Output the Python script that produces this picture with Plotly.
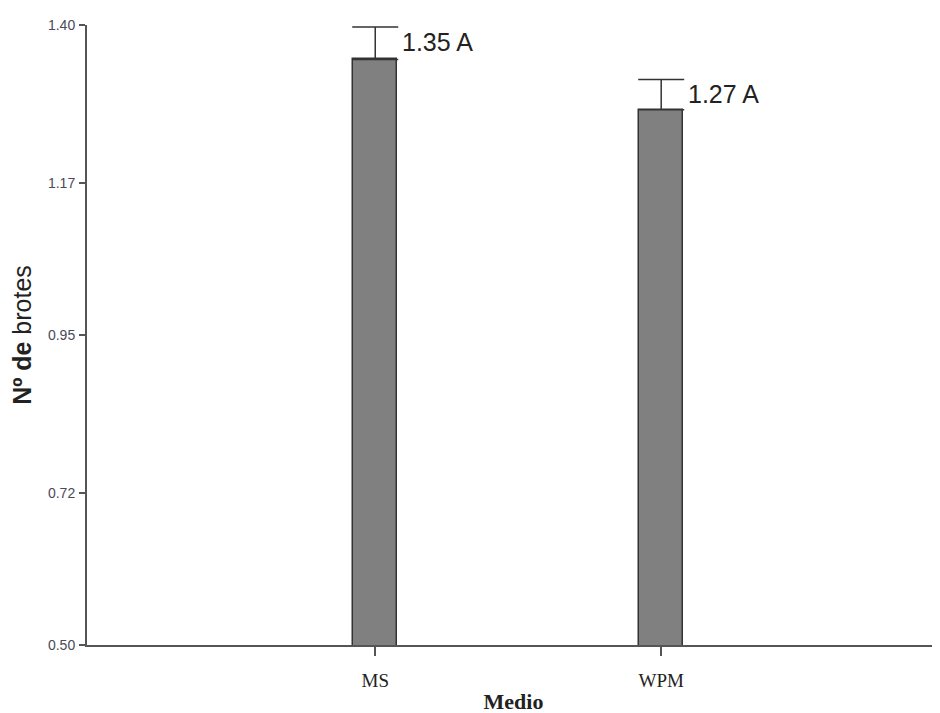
import plotly.graph_objects as go

categories = ["MS", "WPM"]
means = [1.35, 1.277]
errors = [0.047, 0.044]
labels = ["1.35 A", "1.27 A"]
y_ticks = [0.50, 0.72, 0.95, 1.17, 1.40]
y_ticktext = ["0.50", "0.72", "0.95", "1.17", "1.40"]

fig = go.Figure()
fig.add_trace(go.Bar(
    x=[0, 1], y=means, base=0,
    width=0.155,
    marker=dict(color="#808080", line=dict(color="#333333", width=1.5)),
    error_y=dict(type="data", array=errors, arrayminus=[0, 0], symmetric=False,
                 visible=True, color="#333333", thickness=1.5, width=23),
    showlegend=False,
))

for i, (m, e, t) in enumerate(zip(means, errors, labels)):
    fig.add_annotation(x=i, y=m + e, text=t, showarrow=False,
                       xanchor="left", yanchor="top", xshift=25, yshift=1,
                       font=dict(family="Arial, Liberation Sans", size=25, color="#222222"))

fig.update_layout(
    width=940, height=713,
    margin=dict(l=79, r=8, t=17, b=76),
    plot_bgcolor="white", paper_bgcolor="white",
    bargap=0,
)
fig.update_xaxes(
    range=[-1.008, 1.975], tickmode="array", tickvals=[0, 1], ticktext=categories,
    showline=True, linecolor="#555555", linewidth=2,
    ticks="outside", ticklen=9, tickcolor="#555555", tickwidth=1.5,
    ticklabelstandoff=8,
    showgrid=False, zeroline=False,
    tickfont=dict(family="Liberation Serif, Times New Roman", size=19, color="#222222"),
    title=dict(text="<b>Medio</b>", standoff=4,
               font=dict(family="Liberation Serif, Times New Roman", size=22, color="#222222")),
)
fig.update_yaxes(
    range=[0.5, 1.4], tickmode="array", tickvals=y_ticks, ticktext=y_ticktext,
    showline=True, linecolor="#555555", linewidth=2,
    ticks="outside", ticklen=6, tickcolor="#555555", tickwidth=1.5,
    ticklabelstandoff=1,
    showgrid=False, zeroline=False,
    tickfont=dict(family="Arial, Liberation Sans", size=14, color="#4a4a5a"),
    title=dict(text="<b>Nº de</b> brotes", standoff=12,
               font=dict(family="Arial, Liberation Sans", size=25, color="#222222")),
)

fig.write_html("out.html")
